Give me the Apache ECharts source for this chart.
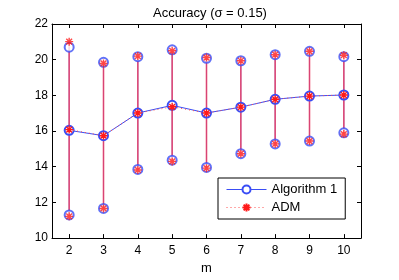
<!DOCTYPE html>
<html><head><meta charset="utf-8">
<script src="https://cdn.jsdelivr.net/npm/echarts@6/dist/echarts.min.js"></script>
<style>html,body{margin:0;padding:0;background:#fff}#c{width:399px;height:280px}</style>
</head><body><div id="c"></div>
<script>
var mValues = [2, 3, 4, 5, 6, 7, 8, 9, 10];
var yTicks = [10, 12, 14, 16, 18, 20, 22];
var alg1Mean = [16.04, 15.74, 17.01, 17.44, 17.01, 17.34, 17.78, 17.96, 18.02];
var alg1High = [20.70, 19.85, 20.17, 20.55, 20.08, 19.94, 20.28, 20.47, 20.17];
var alg1Low  = [11.30, 11.66, 13.85, 14.37, 13.96, 14.73, 15.28, 15.44, 15.90];
var admMean  = [16.08, 15.74, 17.01, 17.36, 17.01, 17.34, 17.78, 17.96, 18.02];
var admHigh  = [21.01, 19.79, 20.20, 20.50, 20.12, 19.94, 20.28, 20.47, 20.25];
var admLow   = [11.22, 11.66, 13.82, 14.30, 13.92, 14.73, 15.28, 15.44, 15.83];

var FONT = 'Liberation Sans';
var BLUE = '#3a4df5';
var RED = '#ff1a1a';
var STAR = 'path://M0,-5L0,5M-5,0L5,0M-3.6,-3.6L3.6,3.6M-3.6,3.6L3.6,-3.6';
function pairs(ys){ return mValues.map(function(m,i){ return [m, ys[i]]; }); }
function bars(lo, hi){ return mValues.map(function(m,i){ return [m, lo[i], hi[i]]; }); }
function barSeries(lo, hi, color, w){
  return {
    type: 'custom', silent: true, z: 1,
    dimensions: ['m', 'lo', 'hi'],
    encode: {x: 0, y: [1, 2]},
    data: bars(lo, hi),
    renderItem: function(params, api){
      var a = api.coord([api.value(0), api.value(1)]);
      var b = api.coord([api.value(0), api.value(2)]);
      return {type:'line', shape:{x1:a[0],y1:a[1],x2:b[0],y2:b[1]},
        style:{stroke:color, lineWidth:w}};
    }
  };
}
var axisCommon = {
  axisLine:{show:true, onZero:false, lineStyle:{color:'#000', width:1}},
  axisTick:{show:true, inside:true, length:4, lineStyle:{color:'#000'}},
  splitLine:{show:false}
};
var chart = echarts.init(document.getElementById('c'), null, {renderer:'canvas'});
chart.setOption({
  animation: false,
  backgroundColor: '#fff',
  textStyle: {fontFamily: FONT},
  title: {text: 'Accuracy (\u03c3 = 0.15)', left: 205, top: 2, textAlign: 'center',
    textStyle: {fontFamily: FONT, fontSize: 13, fontWeight: 'normal', color: '#000'}},
  grid: {left: 52, top: 24, right: 38, bottom: 37},
  legend: {
    data: ['Algorithm 1', 'ADM'], orient: 'vertical', left: 218, top: 178,
    itemWidth: 40, itemHeight: 10, itemGap: 5, padding: [5, 8, 5, 8],
    borderColor: '#000', borderWidth: 1, backgroundColor: '#fff',
    lineStyle: {width: 1},
    textStyle: {fontFamily: FONT, fontSize: 13, color: '#000'}
  },
  xAxis: [
    Object.assign({type:'value', min:1.5, max:10.5, position:'bottom', name:'m',
      nameLocation:'middle', nameGap:22, nameTextStyle:{fontFamily:FONT, fontSize:13, color:'#000'},
      axisLabel:{customValues:mValues, color:'#000', fontSize:12, fontFamily:FONT, margin:7}},
      axisCommon, {axisTick:Object.assign({}, axisCommon.axisTick, {customValues:mValues})}),
    Object.assign({type:'value', min:1.5, max:10.5, position:'top',
      axisLabel:{show:false}}, axisCommon,
      {axisTick:Object.assign({}, axisCommon.axisTick, {customValues:mValues})})
  ],
  yAxis: [
    Object.assign({type:'value', min:yTicks[0], max:yTicks[yTicks.length-1], interval:2, position:'left',
      axisLabel:{color:'#000', fontSize:12, fontFamily:FONT, margin:4}}, axisCommon),
    Object.assign({type:'value', min:yTicks[0], max:yTicks[yTicks.length-1], interval:2, position:'right',
      axisLabel:{show:false}}, axisCommon)
  ],
  series: [
    barSeries(alg1Low, alg1High, 'rgba(90,100,240,0.9)', 1),
    barSeries(admLow, admHigh, 'rgba(235,60,95,0.85)', 1.6),
    {name:'Algorithm 1', type:'line', data:pairs(alg1Mean), z:3,
      symbol:'emptyCircle', symbolSize:9, showSymbol:true,
      lineStyle:{color:BLUE, width:1}, itemStyle:{color:BLUE, borderWidth:1},
      emphasis:{disabled:true}},
    {name:'alg1hi', type:'scatter', data:pairs(alg1High), symbol:'emptyCircle', symbolSize:9, z:3,
      itemStyle:{color:BLUE, borderWidth:1}, emphasis:{disabled:true}},
    {name:'alg1lo', type:'scatter', data:pairs(alg1Low), symbol:'emptyCircle', symbolSize:9, z:3,
      itemStyle:{color:BLUE, borderWidth:1}, emphasis:{disabled:true}},
    {name:'ADM', type:'line', data:pairs(admMean), z:4,
      symbol:STAR, symbolSize:8, showSymbol:true,
      lineStyle:{color:'#ff5050', width:1, type:[1,3]},
      itemStyle:{color:'rgba(0,0,0,0)', borderColor:RED, borderWidth:1.4},
      emphasis:{disabled:true}},
    {name:'admhi', type:'scatter', data:pairs(admHigh), symbol:STAR, symbolSize:8, z:4,
      itemStyle:{color:'rgba(0,0,0,0)', borderColor:RED, borderWidth:1.4}, emphasis:{disabled:true}},
    {name:'admlo', type:'scatter', data:pairs(admLow), symbol:STAR, symbolSize:8, z:4,
      itemStyle:{color:'rgba(0,0,0,0)', borderColor:RED, borderWidth:1.4}, emphasis:{disabled:true}}
  ]
});
</script></body></html>
